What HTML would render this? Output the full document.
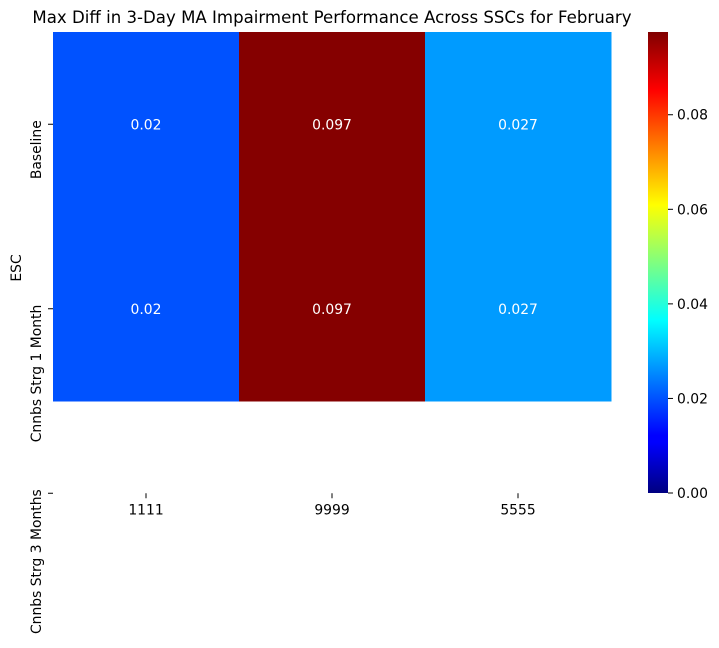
<!DOCTYPE html>
<html><head><meta charset="utf-8"><style>
body{margin:0;background:#fff;}
svg{font-family:"DejaVu Sans","Liberation Sans",sans-serif;}
</style></head><body>
<svg id="chart" width="719" height="643" xmlns="http://www.w3.org/2000/svg">
<defs>
<linearGradient id="jetgrad" x1="0" y1="1" x2="0" y2="0">
<stop offset="0" stop-color="#000080"/><stop offset="0.11" stop-color="#0000ff"/>
<stop offset="0.125" stop-color="#0000ff"/><stop offset="0.375" stop-color="#00ffff"/>
<stop offset="0.625" stop-color="#ffff00"/><stop offset="0.875" stop-color="#ff0000"/>
<stop offset="1" stop-color="#800000"/>
</linearGradient>
</defs>
<text x="332" y="23" text-anchor="middle" font-size="16.6" fill="#000">Max Diff in 3-Day MA Impairment Performance Across SSCs for February</text>
<g id="cells"></g>
<g id="axes"></g>
<text transform="translate(21,268) rotate(-90)" text-anchor="middle" font-size="13.9">ESC</text>
<rect x="648" y="32" width="20" height="461" fill="url(#jetgrad)"/>
<g id="cbar"></g>
</svg>
<script>
const columns=["1111","9999","5555"];
const rows=["Baseline","Cnnbs Strg 1 Month","Cnnbs Strg 3 Months"];
const rowBaseline=[0.02,0.097,0.027];
const rowOneMonth=[0.02,0.097,0.027];
const values=[rowBaseline,rowOneMonth];
const cbarTicks=[0,0.02,0.04,0.06,0.08];
const vmin=0,vmax=0.0975;
const L=53,R=611,T=32,rowH=184.5;
const colW=(R-L)/columns.length;
function jet(v){const t=(v-vmin)/(vmax-vmin);
 const c=x=>Math.max(0,Math.min(1,x));
 const r=c(1.5-Math.abs(4*t-3)),g=c(1.5-Math.abs(4*t-2)),b=c(1.5-Math.abs(4*t-1));
 return `rgb(${Math.round(r*255)},${Math.round(g*255)},${Math.round(b*255)})`;}
const NS="http://www.w3.org/2000/svg";
function mk(tag,attrs,parent,text){const e=document.createElementNS(NS,tag);for(const k in attrs)e.setAttribute(k,attrs[k]);if(text!==undefined)e.textContent=text;parent.appendChild(e);return e;}
const cells=document.getElementById('cells'),axes=document.getElementById('axes'),cbar=document.getElementById('cbar');
values.forEach((row,i)=>row.forEach((v,j)=>{
 const r=mk('rect',{x:L+j*colW,y:T+i*rowH,width:colW+0.5,height:rowH+0.5,fill:jet(v)},cells);
 
 
 const t=mk('text',{x:L+(j+0.5)*colW,y:T+(i+0.5)*rowH+5,'text-anchor':'middle','font-size':13.9,fill:'#fff'},cells,String(v));
 
 
}));
const bottom=T+rowH*2.5;
columns.forEach((c,j)=>{const x=L+(j+0.5)*colW;
 mk('line',{x1:x,x2:x,y1:bottom,y2:bottom+5,stroke:'#000'},axes);
 const t=mk('text',{x:x,y:bottom+21,'text-anchor':'middle','font-size':13.9},axes,c);
 
 });
rows.forEach((r,i)=>{const y=T+(i+0.5)*rowH;
 mk('line',{x1:L-5,x2:L,y1:y,y2:y,stroke:'#000'},axes);
 const t=mk('text',{transform:`translate(41,${y-4}) rotate(-90)`,'text-anchor':'end','font-size':13.9},axes,r);
 
 });
cbarTicks.forEach(v=>{const y=493-(v-vmin)/(vmax-vmin)*461;
 mk('line',{x1:668,x2:673,y1:y,y2:y,stroke:'#000'},cbar);
 const t=mk('text',{x:677,y:y+5,'font-size':13.9},cbar,v.toFixed(2));
 
 });
</script>
</body></html>
